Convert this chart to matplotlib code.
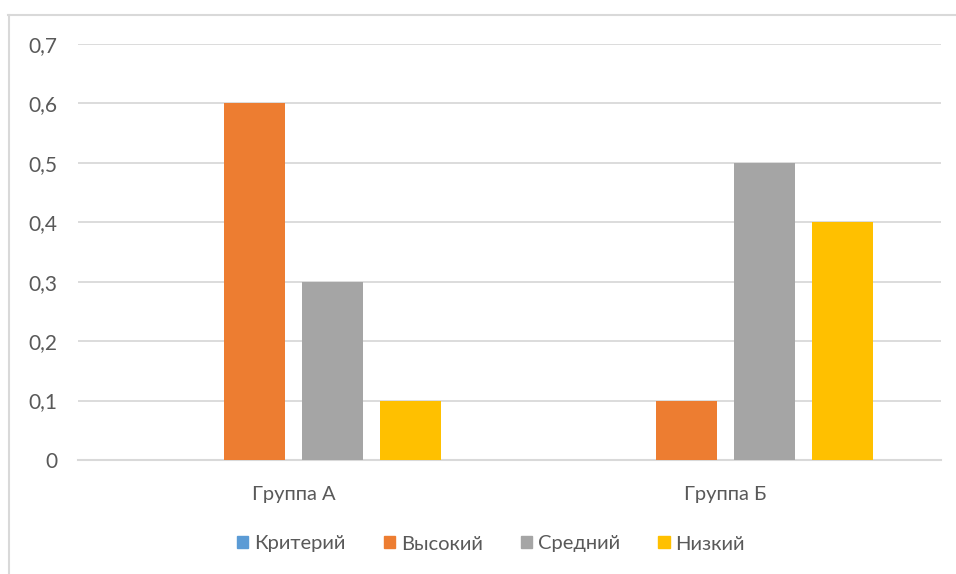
import numpy as np
import matplotlib
matplotlib.use("Agg")
import matplotlib.pyplot as plt
from matplotlib.lines import Line2D
from matplotlib.ticker import FuncFormatter

plt.rcParams['font.family'] = ['Lato', 'DejaVu Sans']

groups = ["Группа А", "Группа Б"]
series = ["Критерий", "Высокий", "Средний", "Низкий"]
values = {
    "Критерий": [0.0, 0.0],
    "Высокий": [0.6, 0.1],
    "Средний": [0.3, 0.5],
    "Низкий": [0.1, 0.4],
}
colors = ["#5B9BD5", "#ED7D31", "#A5A5A5", "#FFC000"]
yticks = [0, 0.1, 0.2, 0.3, 0.4, 0.5, 0.6, 0.7]

W, H = 956, 574
fig = plt.figure(figsize=(W / 100, H / 100), dpi=100)
# plot area in pixels: x 78..941, y 44 (0.7) .. 460 (0)
ax = fig.add_axes([78 / W, 1 - 460 / H, (941 - 78) / W, (460 - 44) / H])

# chart frame (Excel chart border)
fig.add_artist(Line2D([8 / W, 1], [1 - 15 / H, 1 - 15 / H], color="#D9D9D9", lw=1.5))
fig.add_artist(Line2D([9 / W, 9 / W], [0, 1 - 15 / H], color="#D9D9D9", lw=1.5))

x = np.arange(len(groups))
bw = 0.141
step = 0.181
for i, (name, col) in enumerate(zip(series, colors)):
    offs = (i - 1.5) * step
    ax.bar(x + offs, values[name], width=bw, color=col, label=name, zorder=3)

ax.set_xlim(-0.5, 1.5)
ax.set_ylim(0, 0.7)
ax.set_yticks(yticks)
ax.yaxis.set_major_formatter(FuncFormatter(lambda v, p: "0" if v == 0 else f"{v:.1f}".replace(".", ",")))
ax.grid(axis="y", color="#D9D9D9", lw=1.3, zorder=0)
ax.set_xticks(x)
ax.set_xticklabels(groups)
for s in ["top", "right", "left"]:
    ax.spines[s].set_visible(False)
ax.spines["bottom"].set_color("#D9D9D9")
ax.spines["bottom"].set_linewidth(1.5)
ax.tick_params(axis="both", length=0, colors="#595959")
ax.tick_params(axis="y", pad=15, labelsize=15)
ax.tick_params(axis="x", pad=19, labelsize=14.5)

handles = [plt.Rectangle((0, 0), 1, 1, color=c) for c in colors]
fig.legend(handles, series, loc="center", bbox_to_anchor=(491 / W, 1 - 544 / H), ncol=4,
           frameon=False, fontsize=14.5, labelcolor="#595959", handlelength=0.55,
           handleheight=0.55, handletextpad=0.3, columnspacing=1.9)

fig.savefig("out.png", dpi=100)
